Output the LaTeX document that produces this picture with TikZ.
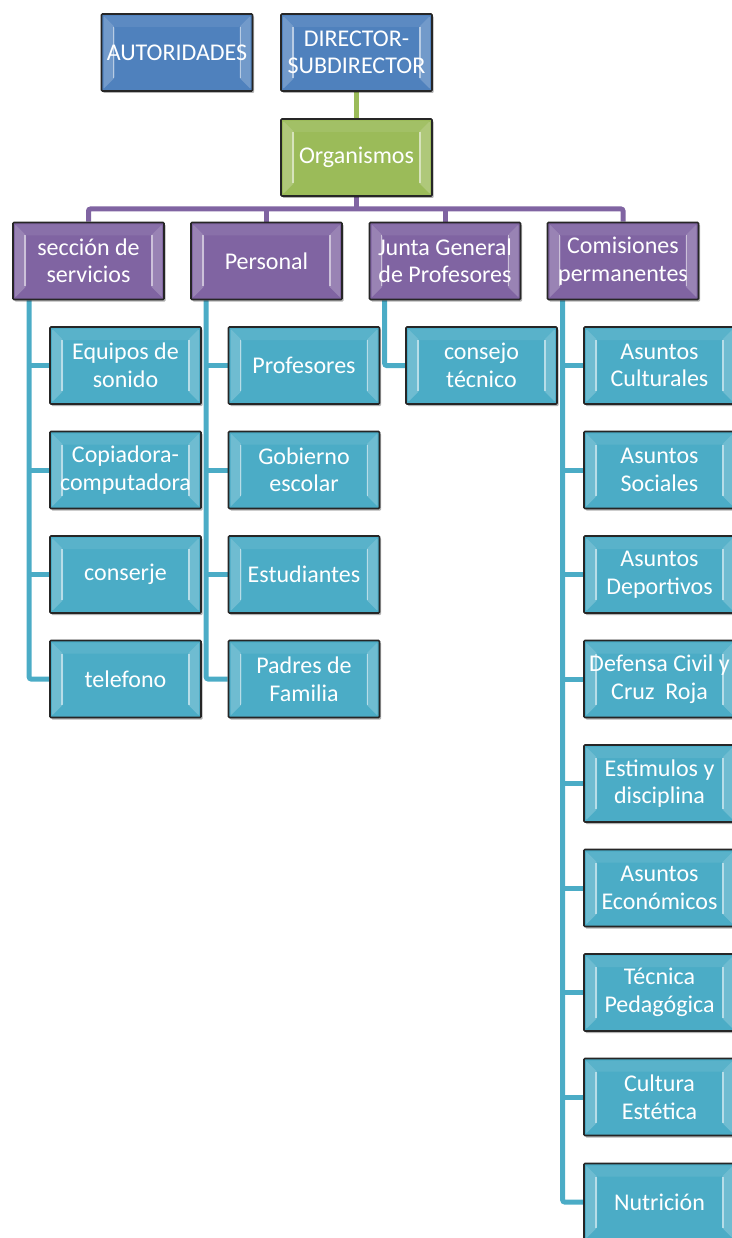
\documentclass[tikz,border=0pt]{standalone}
\usepackage{fontspec}
\setmainfont{Carlito}
\usetikzlibrary{shadows,backgrounds}
\definecolor{cblue}{HTML}{4F81BD}
\definecolor{cgreen}{HTML}{9BBB59}
\definecolor{cpurple}{HTML}{8064A2}
\definecolor{cteal}{HTML}{4BACC6}
\tikzset{
  bevel/.style={path picture={
    \fill[white,opacity=.2] ([shift={(2pt,2pt)}]path picture bounding box.south west) -- ([shift={(2pt,-2pt)}]path picture bounding box.north west) -- ([shift={(13pt,-13pt)}]path picture bounding box.north west) -- ([shift={(13pt,13pt)}]path picture bounding box.south west) -- cycle;
    \fill[white,opacity=.2] ([shift={(-2pt,2pt)}]path picture bounding box.south east) -- ([shift={(-2pt,-2pt)}]path picture bounding box.north east) -- ([shift={(-13pt,-13pt)}]path picture bounding box.north east) -- ([shift={(-13pt,13pt)}]path picture bounding box.south east) -- cycle;
    \draw[white,opacity=.5,line width=1.8pt] ([shift={(12pt,-13pt)}]path picture bounding box.north west) -- ([shift={(12pt,13pt)}]path picture bounding box.south west);
    \draw[white,opacity=.5,line width=1.8pt] ([shift={(-12pt,-13pt)}]path picture bounding box.north east) -- ([shift={(-12pt,13pt)}]path picture bounding box.south east);
    \fill[white,opacity=.08] ([shift={(2pt,-2pt)}]path picture bounding box.north west) -- ([shift={(13pt,-13pt)}]path picture bounding box.north west) -- ([shift={(-13pt,-13pt)}]path picture bounding box.north east) -- ([shift={(-2pt,-2pt)}]path picture bounding box.north east) -- cycle;
  }},
  box/.style={draw=black!85, line width=1.6pt, rounded corners=1pt, minimum width=151pt, minimum height=77pt, inner sep=0pt,
    text=white, align=center, font=\fontsize{24}{27.5}\selectfont, bevel,
    drop shadow={shadow xshift=1.5pt, shadow yshift=-2pt, opacity=.3, fill=black}},
  bluebox/.style={box, fill=cblue},
  greenbox/.style={box, fill=cgreen},
  purplebox/.style={box, fill=cpurple},
  tealbox/.style={box, fill=cteal},
  gline/.style={draw=cgreen, line width=5pt},
  pline/.style={draw=cpurple, line width=5pt, rounded corners=2pt},
  tline/.style={draw=cteal, line width=5pt, rounded corners=2pt},
}
\begin{document}
\begin{tikzpicture}[x=1pt,y=-1pt]
\useasboundingbox (0,0) rectangle (731,1238);
\coordinate (bus) at (356.5,209);
\node[bluebox] (aut) at (177,52.5) {AUTORIDADES};
\node[bluebox] (dir) at (356.5,52.5) {DIRECTOR-\\SUBDIRECTOR};
\node[greenbox] (org) at (356.5,157.5) {Organismos};
\node[purplebox] (sec) at (88.5,261) {sección de\\servicios};
\node[purplebox] (per) at (266.5,261) {Personal};
\node[purplebox] (jun) at (445,261) {Junta General\\de Profesores};
\node[purplebox] (com) at (623,261) {Comisiones\\permanentes};
% seccion children
\node[tealbox] (eq) at (125.5,365.5) {Equipos de\\sonido};
\node[tealbox] (cop) at (125.5,470) {Copiadora-\\computadora};
\node[tealbox] (cons) at (125.5,574.5) {conserje};
\node[tealbox] (tel) at (125.5,679) {telefono};
% personal children
\node[tealbox] (prof) at (304,365.5) {Profesores};
\node[tealbox] (gob) at (304,470) {Gobierno\\escolar};
\node[tealbox] (est) at (304,574.5) {Estudiantes};
\node[tealbox] (pad) at (304,679) {Padres de\\Familia};
% junta child
\node[tealbox] (cto) at (481.5,365.5) {consejo\\técnico};
% comisiones children
\node[tealbox] (c1) at (659.5,365.5) {Asuntos\\Culturales};
\node[tealbox] (c2) at (659.5,470) {Asuntos\\Sociales};
\node[tealbox] (c3) at (659.5,574.5) {Asuntos\\Deportivos};
\node[tealbox] (c4) at (659.5,679) {Defensa Civil y\\Cruz~~Roja};
\node[tealbox] (c5) at (659.5,783.5) {Estimulos y\\disciplina};
\node[tealbox] (c6) at (659.5,888) {Asuntos\\Económicos};
\node[tealbox] (c7) at (659.5,992.5) {Técnica\\Pedagógica};
\node[tealbox] (c8) at (659.5,1097) {Cultura\\Estética};
\node[tealbox] (c9) at (659.5,1202) {Nutrición};
% connectors
\begin{scope}[on background layer]
\draw[gline] (dir.south) -- (org.north);
\draw[pline] (org.south) -- (org.south |- bus);
\draw[pline] (sec.north) -- (sec.north |- bus) -- (com.north |- bus) -- (com.north);
\draw[pline] (per.north) -- (per.north |- bus);
\draw[pline] (jun.north) -- (jun.north |- bus);
% seccion
\coordinate (sl) at ([xshift=17pt]sec.south west);
\draw[tline] (sl) |- (tel.west);
\foreach \c in {eq,cop,cons} \draw[tline] (\c.west) -- (\c.west -| sl);
% personal
\coordinate (pl) at ([xshift=16pt]per.south west);
\draw[tline] (pl) |- (pad.west);
\foreach \c in {prof,gob,est} \draw[tline] (\c.west) -- (\c.west -| pl);
% junta
\coordinate (jl) at ([xshift=16pt]jun.south west);
\draw[tline] (jl) |- (cto.west);
% comisiones
\coordinate (cl) at ([xshift=16pt]com.south west);
\draw[tline] (cl) |- (c9.west);
\foreach \c in {c1,c2,c3,c4,c5,c6,c7,c8} \draw[tline] (\c.west) -- (\c.west -| cl);
\end{scope}
\end{tikzpicture}
\end{document}
